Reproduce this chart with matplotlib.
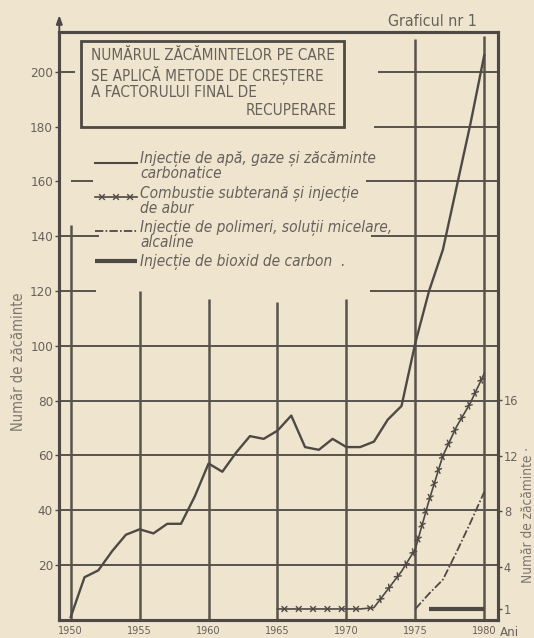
import matplotlib
matplotlib.use('Agg')
import matplotlib.pyplot as plt
from matplotlib.lines import Line2D
from matplotlib.patches import Rectangle
from matplotlib import patheffects as pe
from matplotlib import font_manager as fm
from matplotlib.font_manager import FontProperties

# ---------------- data ----------------
years_main = list(range(1950, 1981))
main_counts = [1, 15.5, 18, 25, 31, 33, 31.5, 35, 35, 45, 57, 54, 61, 67, 66,
               69, 74.5, 63, 62, 66, 63, 63, 65, 73, 78, 101, 120, 135, 158,
               181, 206]

years_comb = list(range(1965, 1981))
comb_counts = [1, 1, 1, 1, 1, 1, 1, 1.1, 2.4, 3.7, 5.3, 8.8, 12, 14.1, 15.8, 17.9]

years_poly = list(range(1975, 1981))
poly_counts = [1, 2.1, 3.1, 5.1, 7.2, 9.4]

years_co2 = list(range(1976, 1981))
co2_counts = [1, 1, 1, 1, 1]

x_ticks = [1950, 1955, 1960, 1965, 1970, 1975, 1980]
left_ticks = [20, 40, 60, 80, 100, 120, 140, 160, 180, 200]
right_ticks = [1, 4, 8, 12, 16]

title_lines = ["NUMĂRUL ZĂCĂMINTELOR PE CARE",
               "SE APLICĂ METODE DE CREȘTERE",
               "A FACTORULUI FINAL DE",
               "RECUPERARE"]
legend_labels = ["Injecție de apă, gaze și zăcăminte\ncarbonatice",
                 "Combustie subterană și injecție\nde abur",
                 "Injecție de polimeri, soluții micelare,\nalcaline",
                 "Injecție de bioxid de carbon  ."]
chart_tag = "Graficul nr 1"
y_label = "Număr de zăcăminte"
x_unit = "Ani"

# ---------------- fonts ----------------
entries = fm.fontManager.ttflist
names = {f.name for f in entries}
STRETCH = 'normal'
FONT = 'DejaVu Sans'
if 'Liberation Sans Narrow' in names:
    FONT = 'Liberation Sans Narrow'
elif any(f.name == 'DejaVu Sans' and f.stretch == 'condensed' for f in entries):
    FONT, STRETCH = 'DejaVu Sans', 'condensed'
else:
    for cand in ['DejaVu Sans Condensed', 'Roboto Condensed', 'Roboto', 'Lato']:
        if cand in names:
            FONT = cand
            break
FAM = [FONT, 'DejaVu Sans']
plt.rcParams['font.family'] = FAM
plt.rcParams['font.stretch'] = STRETCH
plt.rcParams['lines.scale_dashes'] = False

# ---------------- style ----------------
W, H = 534, 638
PAPER = '#efe4cd'
INK = '#4e4944'
GRID = '#58534d'
TXT = '#67615b'
LABC = '#7d776f'


def fx(x):
    return x / W


def fy(y):
    return 1 - y / H


fig = plt.figure(figsize=(W / 100, H / 100), dpi=100, facecolor=PAPER)
renderer = fig.canvas.get_renderer()


def fit(text, target_px, style='normal'):
    prop = FontProperties(family=FAM, style=style, stretch=STRETCH, size=10)
    w, h, d = renderer.get_text_width_height_descent(text, prop, ismath=False)
    return 10.0 * target_px / w


L, R, T, B = 59.3, 498.0, 31.7, 619.7
ax = fig.add_axes([fx(L), fy(B), fx(R) - fx(L), fy(T) - fy(B)])
ax.set_facecolor('none')
ax.set_xlim(1949.17, 1981.0)
ax.set_ylim(0, 214.6)

# partial grid (as drawn on the original)
gkw = dict(color=GRID, lw=1.4, zorder=1)
for v in [20, 40, 60, 80, 100]:
    ax.hlines(v, 1949.17, 1981.0, **gkw)
ax.hlines(120, 1949.17, 1951.8, **gkw)
ax.hlines(140, 1949.17, 1952.05, **gkw)
ax.hlines(160, 1950.0, 1951.6, **gkw)
ax.hlines(200, 1949.17, 1950.3, **gkw)
for v, start in [(120, 1971.7), (140, 1971.8), (160, 1971.4), (180, 1972.0), (200, 1972.3)]:
    ax.hlines(v, start, 1981.0, **gkw)
vkw = dict(color=GRID, lw=1.8, zorder=1)
for yr, top in zip(x_ticks, [144, 120, 117, 116, 117, 212, 213]):
    ax.vlines(yr, 0, top, **vkw)

# main series (left axis)
ax.plot(years_main, main_counts, color=INK, lw=1.7, zorder=3)

# right axis series
ax2 = ax.twinx()
ax2.set_ylim(0.23, 42.44)
cross_fx = [pe.TickedStroke(spacing=10, angle=a, length=0.24, linewidth=1.0)
            for a in (45, 135, -45, -135)] + [pe.Normal()]
ax2.plot(years_comb, comb_counts, color=INK, lw=1.2, zorder=3, path_effects=cross_fx)
DASHDOT = (0, (6, 1.6, 1.2, 1.6))
ax2.plot(years_poly, poly_counts, color=INK, lw=1.3, zorder=3, linestyle=DASHDOT)
ax2.plot(years_co2, co2_counts, color=INK, lw=3.0, zorder=3, solid_capstyle='butt')

# spines and ticks
for a in (ax, ax2):
    for s in a.spines.values():
        s.set_color(INK)
        s.set_linewidth(2.2)
xt_size = min(fit("1950", 25), 9)
yt_size = min(fit("200", 23), 11.5)
ax.set_xticks(x_ticks)
ax.set_xticklabels([str(x) for x in x_ticks])
ax.tick_params(axis='x', length=0, pad=4.5, labelsize=xt_size, labelcolor=TXT)
ax.set_yticks(left_ticks)
ax.set_yticklabels([str(v) for v in left_ticks])
ax.tick_params(axis='y', direction='out', length=3, width=1, color=INK,
               pad=1.5, labelsize=yt_size, labelcolor=TXT)
ax2.set_yticks(right_ticks)
ax2.set_yticklabels([str(v) for v in right_ticks])
ax2.tick_params(axis='y', direction='out', length=3, width=1, color=INK,
                pad=1.2, labelsize=yt_size * 0.95, labelcolor=TXT)

# arrow on top of left axis
ax.annotate('', xy=(0, 1.033), xytext=(0, 0.99), xycoords='axes fraction',
            arrowprops=dict(arrowstyle='-|>,head_length=0.5,head_width=0.18',
                            color=INK, lw=1.4), annotation_clip=False)

# axis labels
fig.text(fx(19), fy(362), y_label, rotation=90, ha='center', va='center',
         fontsize=min(fit(y_label, 138), 12), color=LABC)
fig.text(fx(527.5), fy(515), y_label + " ·", rotation=90, ha='center', va='center',
         fontsize=min(fit(y_label + " ·", 185), 9.8), color=LABC)
fig.text(fx(500), fy(626), x_unit, ha='left', va='top',
         fontsize=min(fit(x_unit, 19), 11), color=TXT)
fig.text(fx(477), fy(22), chart_tag, ha='right', va='center',
         fontsize=min(fit(chart_tag, 89), 13.5), color=TXT)

# title box
fig.add_artist(Rectangle((fx(80.7), fy(126.7)), fx(344) - fx(80.7), fy(41) - fy(126.7),
                         transform=fig.transFigure, fill=False, edgecolor=INK, lw=2))
box_size = min(fit(title_lines[0], 244), 12.5)
for i, line in enumerate(title_lines[:3]):
    fig.text(fx(91), fy(56 + 18.2 * i), line, ha='left', va='center',
             fontsize=box_size, color=TXT)
fig.text(fx(337), fy(110.7), title_lines[3], ha='right', va='center',
         fontsize=box_size, color=TXT)

# legend (samples + labels, one text per printed line)
leg_size = min(fit(legend_labels[0].split('\n')[0], 236, 'italic'), 14)
legend_styles = [dict(color=INK, lw=1.5),
                 dict(color=INK, lw=1.2, path_effects=cross_fx),
                 dict(color=INK, lw=1.3, linestyle=DASHDOT),
                 dict(color=INK, lw=3.0, solid_capstyle='butt')]
sample_y = [163, 197, 231, 261]
first_line_y = [157, 192, 226, 260]
LINE_PITCH = 15.3
for st, sy, lab, ly in zip(legend_styles, sample_y, legend_labels, first_line_y):
    fig.add_artist(Line2D([fx(95), fx(137)], [fy(sy), fy(sy)],
                          transform=fig.transFigure, **st))
    for k, part in enumerate(lab.split('\n')):
        fig.text(fx(140), fy(ly + k * LINE_PITCH), part, ha='left', va='center_baseline',
                 style='italic', fontsize=leg_size, color=TXT)

fig.savefig('out.png', dpi=100, facecolor=PAPER)
